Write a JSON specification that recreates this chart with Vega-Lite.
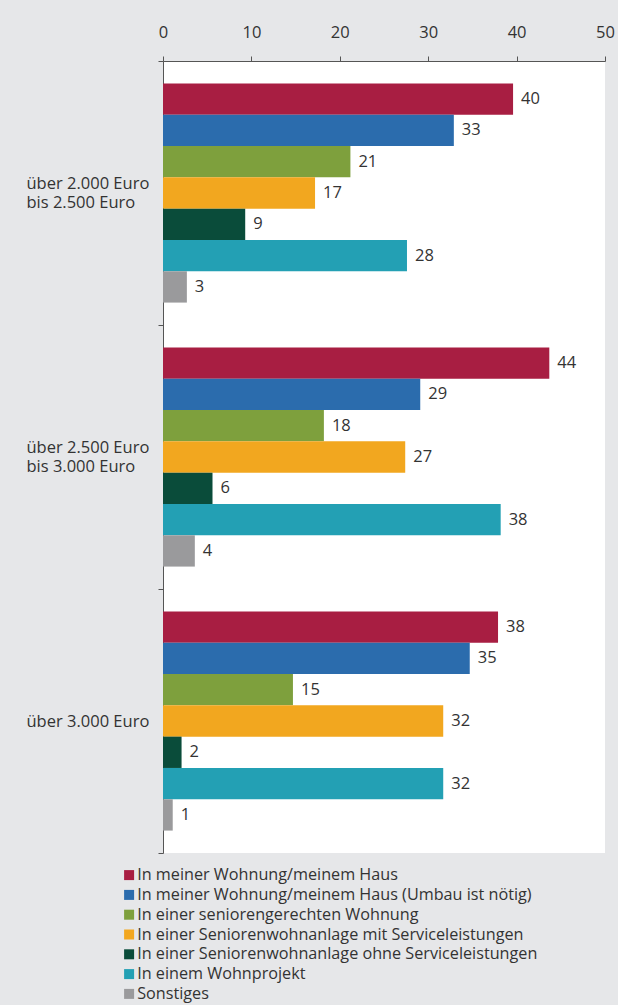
{
  "$schema": "https://vega.github.io/schema/vega-lite/v6.json",
  "width": 442,
  "height": 792,
  "autosize": {"type": "none"},
  "padding": {"left": 163, "top": 61, "right": 13, "bottom": 152},
  "background": "#e6e7e9",
  "config": {"view": {"fill": "white", "stroke": null}, "font": "Open Sans"},
  "data": {
    "values": [
      {"group": "über 2.000 Euro|bis 2.500 Euro", "category": "In meiner Wohnung/meinem Haus", "value": 39.6},
      {"group": "über 2.000 Euro|bis 2.500 Euro", "category": "In meiner Wohnung/meinem Haus (Umbau ist nötig)", "value": 32.9},
      {"group": "über 2.000 Euro|bis 2.500 Euro", "category": "In einer seniorengerechten Wohnung", "value": 21.2},
      {"group": "über 2.000 Euro|bis 2.500 Euro", "category": "In einer Seniorenwohnanlage mit Serviceleistungen", "value": 17.2},
      {"group": "über 2.000 Euro|bis 2.500 Euro", "category": "In einer Seniorenwohnanlage ohne Serviceleistungen", "value": 9.3},
      {"group": "über 2.000 Euro|bis 2.500 Euro", "category": "In einem Wohnprojekt", "value": 27.6},
      {"group": "über 2.000 Euro|bis 2.500 Euro", "category": "Sonstiges", "value": 2.7},
      {"group": "über 2.500 Euro|bis 3.000 Euro", "category": "In meiner Wohnung/meinem Haus", "value": 43.7},
      {"group": "über 2.500 Euro|bis 3.000 Euro", "category": "In meiner Wohnung/meinem Haus (Umbau ist nötig)", "value": 29.1},
      {"group": "über 2.500 Euro|bis 3.000 Euro", "category": "In einer seniorengerechten Wohnung", "value": 18.2},
      {"group": "über 2.500 Euro|bis 3.000 Euro", "category": "In einer Seniorenwohnanlage mit Serviceleistungen", "value": 27.4},
      {"group": "über 2.500 Euro|bis 3.000 Euro", "category": "In einer Seniorenwohnanlage ohne Serviceleistungen", "value": 5.6},
      {"group": "über 2.500 Euro|bis 3.000 Euro", "category": "In einem Wohnprojekt", "value": 38.2},
      {"group": "über 2.500 Euro|bis 3.000 Euro", "category": "Sonstiges", "value": 3.6},
      {"group": "über 3.000 Euro", "category": "In meiner Wohnung/meinem Haus", "value": 37.9},
      {"group": "über 3.000 Euro", "category": "In meiner Wohnung/meinem Haus (Umbau ist nötig)", "value": 34.7},
      {"group": "über 3.000 Euro", "category": "In einer seniorengerechten Wohnung", "value": 14.7},
      {"group": "über 3.000 Euro", "category": "In einer Seniorenwohnanlage mit Serviceleistungen", "value": 31.7},
      {"group": "über 3.000 Euro", "category": "In einer Seniorenwohnanlage ohne Serviceleistungen", "value": 2.1},
      {"group": "über 3.000 Euro", "category": "In einem Wohnprojekt", "value": 31.7},
      {"group": "über 3.000 Euro", "category": "Sonstiges", "value": 1.1}
    ]
  },
  "encoding": {
    "y": {
      "field": "group",
      "type": "nominal",
      "sort": ["über 2.000 Euro|bis 2.500 Euro", "über 2.500 Euro|bis 3.000 Euro", "über 3.000 Euro"],
      "scale": {"paddingInner": 0, "paddingOuter": 0},
      "axis": {
        "title": null,
        "tickBand": "extent",
        "tickSize": 5,
        "tickColor": "#555555",
        "domainColor": "#555555",
        "labelAlign": "left",
        "labelPadding": 132,
        "labelExpr": "split(datum.label, '|')",
        "labelOffset": {"condition": {"test": "indexof(datum.label, '|') >= 0", "value": -9.5}, "value": 0},
        "labelLineHeight": 19,
        "labelFontSize": 16.5,
        "labelColor": "#333333"
      }
    },
    "yOffset": {
      "field": "category",
      "type": "nominal",
      "sort": ["In meiner Wohnung/meinem Haus", "In meiner Wohnung/meinem Haus (Umbau ist nötig)", "In einer seniorengerechten Wohnung", "In einer Seniorenwohnanlage mit Serviceleistungen", "In einer Seniorenwohnanlage ohne Serviceleistungen", "In einem Wohnprojekt", "Sonstiges"],
      "scale": {"paddingInner": 0, "paddingOuter": 0.716}
    },
    "x": {
      "field": "value",
      "type": "quantitative",
      "scale": {"domain": [0, 50], "nice": false},
      "axis": {
        "orient": "top",
        "title": null,
        "values": [0, 10, 20, 30, 40, 50],
        "grid": false,
        "tickSize": 5,
        "tickColor": "#555555",
        "domainColor": "#555555",
        "labelPadding": 16,
        "labelFontSize": 16.5,
        "labelColor": "#333333",
        "labelFlush": false
      }
    }
  },
  "layer": [
    {
      "mark": {"type": "bar"},
      "encoding": {
        "color": {
          "field": "category",
          "type": "nominal",
          "scale": {
            "domain": ["In meiner Wohnung/meinem Haus", "In meiner Wohnung/meinem Haus (Umbau ist nötig)", "In einer seniorengerechten Wohnung", "In einer Seniorenwohnanlage mit Serviceleistungen", "In einer Seniorenwohnanlage ohne Serviceleistungen", "In einem Wohnprojekt", "Sonstiges"],
            "range": ["#a81e42", "#2b6cad", "#7ea03d", "#f2a71f", "#0a4c3a", "#23a0b4", "#9a9a9c"]
          },
          "legend": {
            "orient": "none",
            "legendX": -42,
            "legendY": 806,
            "title": null,
            "symbolType": "square",
            "symbolSize": 100,
            "symbolStrokeWidth": 0,
            "labelFontSize": 16.2,
            "labelColor": "#333333",
            "labelOffset": 0,
            "rowPadding": 2.8,
            "labelLimit": 500
          }
        }
      }
    },
    {
      "mark": {"type": "text", "align": "left", "baseline": "middle", "dx": 8, "fontSize": 16.5, "color": "#333333"},
      "encoding": {"text": {"field": "value", "type": "quantitative", "format": ".0f"}}
    }
  ]
}
